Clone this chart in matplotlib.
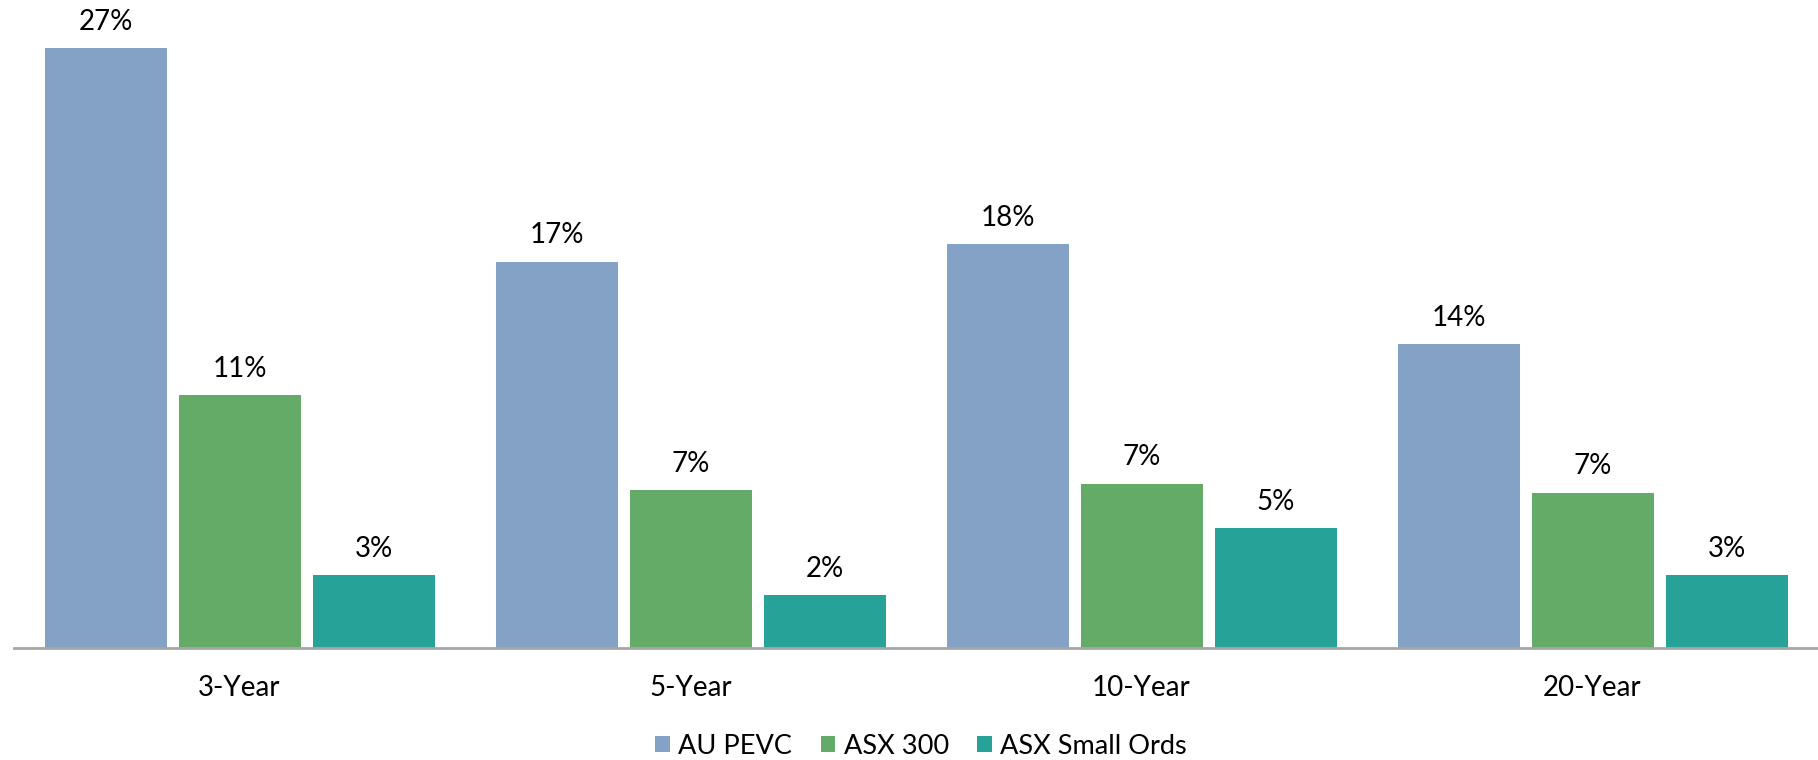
import matplotlib
matplotlib.use("Agg")
import matplotlib.pyplot as plt
import numpy as np

categories = ["3-Year", "5-Year", "10-Year", "20-Year"]
series_names = ["AU PEVC", "ASX 300", "ASX Small Ords"]
au_pevc = [27.0, 17.4, 18.2, 13.7]
asx_300 = [11.4, 7.1, 7.4, 7.0]
asx_small = [3.3, 2.4, 5.4, 3.3]
colors = ["#84A2C5", "#64AB67", "#27A299"]

plt.rcParams['font.family'] = ['Lato', 'DejaVu Sans']

fig = plt.figure(figsize=(18.18, 7.605), dpi=100)
ax = fig.add_axes([14/1818, (761-649)/761, 1 - 14/1818, 649/761])

x = np.arange(len(categories))
width = 122/451
step = 134/451
for i, (vals, name, c) in enumerate(zip([au_pevc, asx_300, asx_small], series_names, colors)):
    pos = x + (i - 1) * step
    bars = ax.bar(pos, vals, width=width, color=c, label=name)
    for p, v in zip(pos, vals):
        ax.annotate(f"{v:.0f}%", (p, v), xytext=(0, 13.5), textcoords="offset points",
                    ha="center", va="baseline", fontsize=20, color="black")

ax.set_xlim(-0.5, 3.5)
ax.set_ylim(0, 27 * 649 / 600)
ax.set_xticks(x)
ax.set_xticklabels(categories, fontsize=20)
ax.tick_params(axis='x', length=0, pad=19)
ax.set_yticks([])
for s in ["top", "right", "left"]:
    ax.spines[s].set_visible(False)
ax.spines["bottom"].set_color("#A6A6A6")
ax.spines["bottom"].set_linewidth(2)

fig.legend(loc="center", bbox_to_anchor=(921/1818, 1 - 747/761), ncol=3, frameon=False,
           fontsize=19.5, handlelength=0.55, handleheight=0.55, handletextpad=0.3,
           columnspacing=1.05, borderaxespad=0, borderpad=0)

fig.savefig("out.png", dpi=100)
